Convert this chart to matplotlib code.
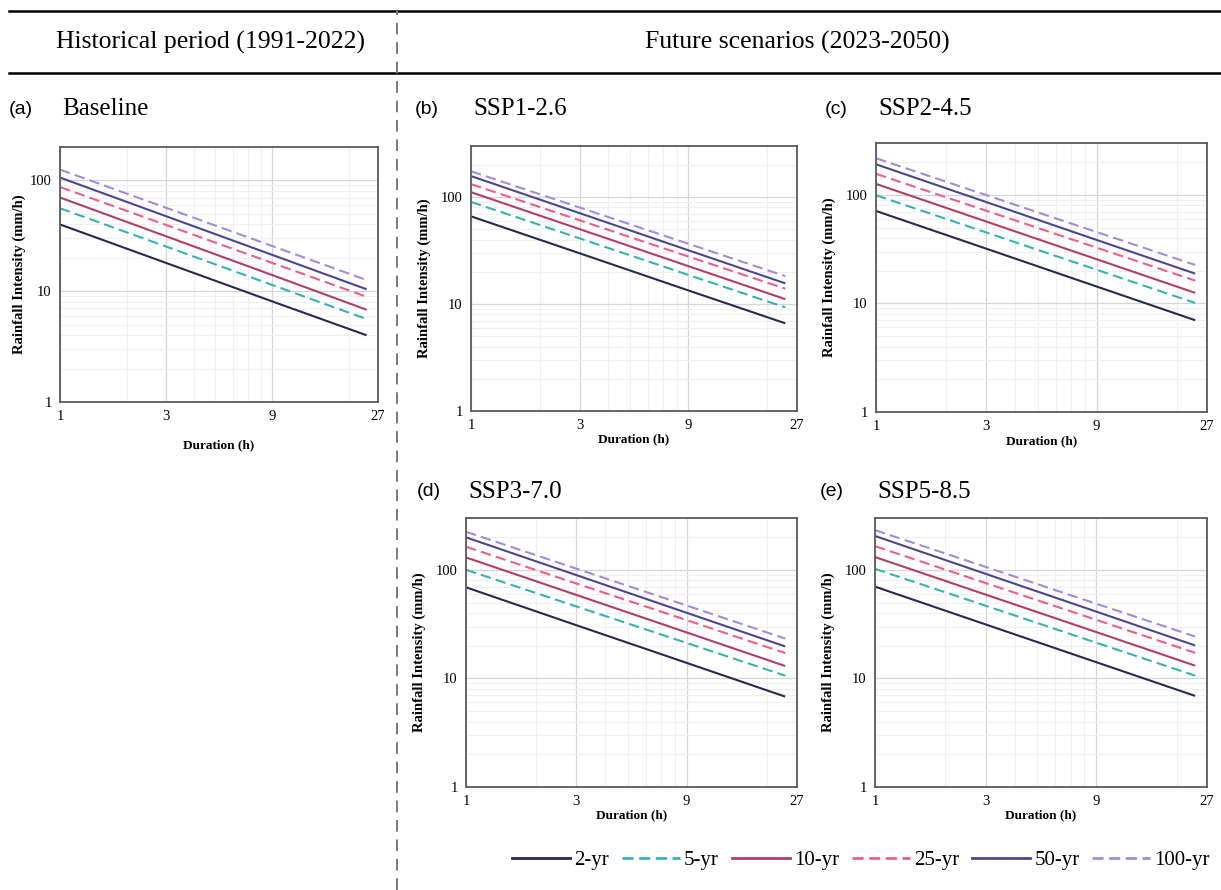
import numpy as np
import matplotlib
matplotlib.use("Agg")
import matplotlib.pyplot as plt
from matplotlib.lines import Line2D
from matplotlib.ticker import FixedLocator, NullFormatter

durations = [1, 3, 9, 24]
periods = ["2-yr", "5-yr", "10-yr", "25-yr", "50-yr", "100-yr"]

# rainfall intensity (mm/h) per return period
baseline = {
    "2-yr": [40, 18.0, 8.1, 4.0],
    "5-yr": [56, 25.3, 11.4, 5.6],
    "10-yr": [70, 31.3, 14.0, 6.8],
    "25-yr": [87, 39.6, 18.0, 8.9],
    "50-yr": [106, 47.5, 21.3, 10.4],
    "100-yr": [125, 56.6, 25.6, 12.6],
}
ssp126 = {
    "2-yr": [66, 29.8, 13.4, 6.6],
    "5-yr": [90, 41.1, 18.7, 9.3],
    "10-yr": [111, 50.1, 22.6, 11.1],
    "25-yr": [132, 60.6, 27.8, 13.9],
    "50-yr": [157, 70.7, 31.8, 15.6],
    "100-yr": [174, 79.8, 36.6, 18.2],
}
ssp245 = {
    "2-yr": [71, 31.9, 14.3, 7.0],
    "5-yr": [99, 45.0, 20.4, 10.1],
    "10-yr": [126, 56.7, 25.5, 12.5],
    "25-yr": [156, 71.3, 32.6, 16.2],
    "50-yr": [191, 85.7, 38.4, 18.8],
    "100-yr": [217, 99.3, 45.4, 22.6],
}
ssp370 = {
    "2-yr": [69, 30.9, 13.9, 6.8],
    "5-yr": [100, 46.0, 21.2, 10.6],
    "10-yr": [130, 58.7, 26.5, 13.0],
    "25-yr": [163, 74.8, 34.4, 17.1],
    "50-yr": [199, 89.4, 40.2, 19.7],
    "100-yr": [224, 102.5, 46.9, 23.3],
}
ssp585 = {
    "2-yr": [70, 31.4, 14.1, 6.9],
    "5-yr": [102, 46.7, 21.3, 10.6],
    "10-yr": [131, 59.1, 26.7, 13.1],
    "25-yr": [165, 75.5, 34.6, 17.2],
    "50-yr": [205, 91.8, 41.2, 20.1],
    "100-yr": [232, 106.4, 48.7, 24.3],
}

colors = {"2-yr": "#272a50", "5-yr": "#38b2b0", "10-yr": "#b23d6b",
          "25-yr": "#ee5e86", "50-yr": "#4b468f", "100-yr": "#a58ad6"}
dashed = {"5-yr", "25-yr", "100-yr"}

SERIF = ["Liberation Serif", "DejaVu Serif"]
SANS = ["Liberation Sans", "DejaVu Sans"]

W, H = 1221, 890
fig = plt.figure(figsize=(W / 100, H / 100), dpi=100)


def px_axes(l, t, r, b):
    return fig.add_axes([l / W, 1 - b / H, (r - l) / W, (b - t) / H])


def draw_panel(box, data, ymax, letter, title, title_y, letter_x, xlab_off):
    l, t, r, b = box
    ax = px_axes(l, t, r, b)
    for p in periods:
        ax.plot(durations, data[p], color=colors[p], lw=1.5,
                ls=(0, (5, 2.5)) if p in dashed else "-",
                solid_capstyle="butt", dash_capstyle="butt")
    ax.set_xscale("log", base=3)
    ax.set_yscale("log")
    ax.set_xlim(1, 27)
    ax.set_ylim(1, ymax)
    ax.xaxis.set_major_locator(FixedLocator([1, 3, 9, 27]))
    ax.xaxis.set_minor_locator(FixedLocator([2, 4, 5, 6, 7, 8, 20]))
    ax.set_xticklabels(["1", "3", "9", "27"])
    ax.yaxis.set_major_locator(FixedLocator([1, 10, 100]))
    ax.yaxis.set_minor_locator(FixedLocator(
        [k * 10 ** e for e in range(3) for k in range(2, 10)]))
    ax.set_yticklabels(["1", "10", "100"])
    ax.xaxis.set_minor_formatter(NullFormatter())
    ax.yaxis.set_minor_formatter(NullFormatter())
    ax.grid(True, which="major", color="#d6d6d6", lw=0.9)
    ax.grid(True, which="minor", color="#efefef", lw=0.8)
    ax.set_axisbelow(True)
    ax.tick_params(which="both", length=0, labelsize=10.5, pad=6)
    for lab in ax.get_xticklabels() + ax.get_yticklabels():
        lab.set_family(SERIF)
    for s in ax.spines.values():
        s.set_color("#5a5a5a")
        s.set_linewidth(1.3)
    ax.set_xlabel("Duration (h)", family=SERIF, fontweight="bold", fontsize=9.5)
    ax.set_ylabel("Rainfall Intensity (mm/h)", family=SERIF,
                  fontweight="bold", fontsize=10.5)
    ax.xaxis.set_label_coords(0.5, -xlab_off / (b - t))
    ax.yaxis.set_label_coords((-34 if letter == "(a)" else -40) / (r - l), 0.5)
    # panel letter and title
    fig.text(letter_x / W, 1 - title_y / H, letter,
             family=SANS, fontsize=14, va="center", ha="left")
    fig.text((l + 2) / W, 1 - title_y / H, title, family=SERIF, fontsize=18,
             va="center", ha="left")
    return ax


draw_panel((60, 147, 378, 402), baseline, 200, "(a)", "Baseline", 109, 9, 37)
draw_panel((471, 146, 797, 411), ssp126, 300, "(b)", "SSP1-2.6", 109, 415, 22)
draw_panel((876, 143, 1207, 412), ssp245, 300, "(c)", "SSP2-4.5", 109, 825, 23)
draw_panel((466, 518, 797, 787), ssp370, 300, "(d)", "SSP3-7.0", 492, 417, 22)
draw_panel((875, 518, 1207, 787), ssp585, 300, "(e)", "SSP5-8.5", 492, 820, 22)

# header rules and column titles
fig.add_artist(Line2D([9 / W, 1], [1 - 11 / H] * 2, color="black", lw=1.8))
fig.add_artist(Line2D([9 / W, 1], [1 - 73 / H] * 2, color="black", lw=1.8))
fig.add_artist(Line2D([397 / W] * 2, [0, 1 - 11 / H], color="#7a7a7a",
                      lw=1.4, ls=(0, (6, 4))))
fig.text(210 / W, 1 - 42 / H, "Historical period (1991-2022)", family=SERIF,
         fontsize=18.5, ha="center", va="center")
fig.text(797 / W, 1 - 42 / H, "Future scenarios (2023-2050)", family=SERIF,
         fontsize=18.5, ha="center", va="center")

# legend
handles = [Line2D([], [], color=colors[p], lw=2,
                  ls=(0, (4, 2)) if p in dashed else "-") for p in periods]
leg = fig.legend(handles, periods, loc="center", ncol=6, frameon=False,
                 bbox_to_anchor=(861 / W, 1 - 860 / H), handlelength=2.8,
                 handletextpad=0.2, columnspacing=0.6,
                 prop={"family": SERIF, "size": 15})

fig.savefig("out.png", dpi=100)
